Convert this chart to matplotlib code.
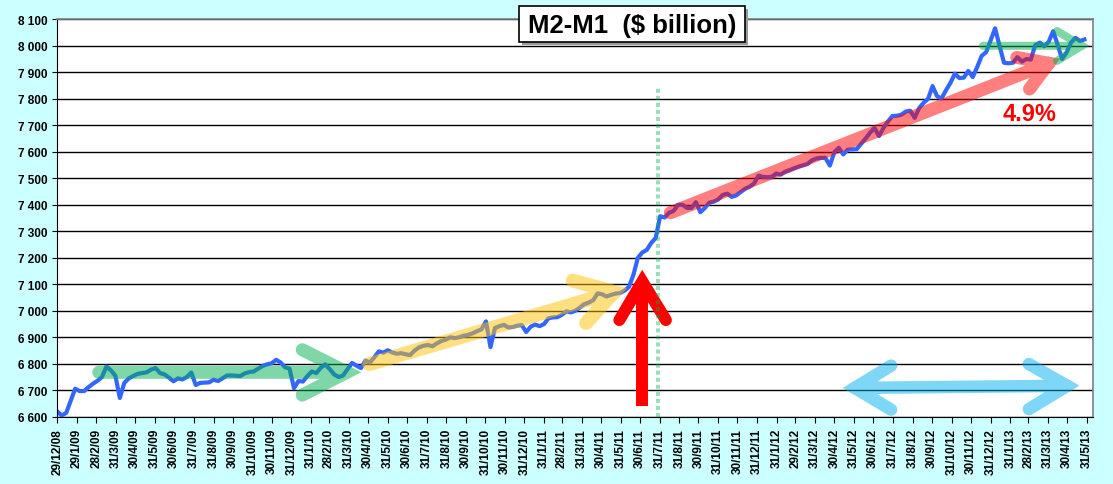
"""
M2-M1 weekly ($ billion), Dec 2008 - May 2013, with hand drawn trend arrows.
"""

import matplotlib
matplotlib.use('Agg')
import matplotlib.pyplot as plt
import matplotlib.dates as mdates
from matplotlib.path import Path
from matplotlib.patches import PathPatch, Rectangle
from datetime import datetime
import pandas as pd

BG = '#CCFFFF'
BLUE = '#3366FF'
GREE = '#00B050'
GOLD = '#FFC000'
RED = '#FF0000'
SKY = '#00B0F0'

# Data -------------------------------------------------------------------------

start = '2008-12-29'

m2m1 = [6620, 6605, 6615, 6660, 6706, 6697, 6697, 6712, 6725, 6736,
        6750, 6790, 6775, 6755, 6671, 6728, 6745, 6754, 6762, 6765,
        6768, 6778, 6784, 6765, 6760, 6748, 6734, 6745, 6741, 6750,
        6767, 6720, 6728, 6729, 6730, 6740, 6735, 6745, 6756, 6756,
        6755, 6754, 6764, 6769, 6771, 6782, 6792, 6798, 6802, 6815,
        6805, 6787, 6782, 6708, 6735, 6733, 6754, 6771, 6765, 6785,
        6798, 6780, 6760, 6750, 6756, 6780, 6803, 6793, 6784, 6812,
        6805, 6825, 6847, 6842, 6851, 6843, 6838, 6840, 6836, 6833,
        6850, 6862, 6868, 6871, 6866, 6877, 6886, 6891, 6900, 6897,
        6900, 6906, 6909, 6915, 6923, 6930, 6960, 6863, 6935, 6942,
        6947, 6937, 6939, 6944, 6946, 6920, 6940, 6948, 6942, 6950,
        6972, 6975, 6976, 6985, 6998, 6994, 7000, 7012, 7025, 7031,
        7040, 7066, 7062, 7054, 7060, 7065, 7067, 7076, 7090, 7135,
        7200, 7220, 7230, 7256, 7275, 7357, 7352, 7370, 7377, 7400,
        7400, 7388, 7388, 7410, 7372, 7388, 7408, 7412, 7420, 7437,
        7442, 7430, 7435, 7448, 7460, 7468, 7480, 7510, 7505, 7504,
        7506, 7518, 7514, 7525, 7531, 7538, 7544, 7549, 7554, 7568,
        7575, 7577, 7577, 7548, 7598, 7615, 7590, 7608, 7609, 7610,
        7630, 7650, 7672, 7690, 7659, 7690, 7714, 7735, 7736, 7740,
        7752, 7755, 7728, 7765, 7785, 7800, 7848, 7810, 7801, 7832,
        7860, 7895, 7878, 7880, 7905, 7882, 7920, 7962, 7976, 8020,
        8066, 8000, 7936, 7934, 7936, 7957, 7940, 7950, 7948, 8003,
        8012, 7998, 8015, 8055, 8005, 7950, 7974, 8012, 8030, 8018,
        8024]

tick_labels = ['29/12/08', '29/1/09', '28/2/09', '31/3/09', '30/4/09', '31/5/09',
               '30/6/09', '31/7/09', '31/8/09', '30/9/09', '31/10/09', '30/11/09',
               '31/12/09', '31/1/10', '28/2/10', '31/3/10', '30/4/10', '31/5/10',
               '30/6/10', '31/7/10', '31/8/10', '30/9/10', '31/10/10', '30/11/10',
               '31/12/10', '31/1/11', '28/2/11', '31/3/11', '30/4/11', '31/5/11',
               '30/6/11', '31/7/11', '31/8/11', '30/9/11', '31/10/11', '30/11/11',
               '31/12/11', '31/1/12', '29/2/12', '31/3/12', '30/4/12', '31/5/12',
               '30/6/12', '31/7/12', '31/8/12', '30/9/12', '31/10/12', '30/11/12',
               '31/12/12', '31/1/13', '28/2/13', '31/3/13', '30/4/13', '31/5/13']

y_ticks = list(range(6600, 8101, 100))

title = 'M2-M1  ($ billion)'
growth = '4.9%'

dates = pd.date_range(start, periods=len(m2m1), freq='7D')
tick_dates = [datetime.strptime(s, '%d/%m/%y') for s in tick_labels]

# Helpers ----------------------------------------------------------------------

def d(s):
	return mdates.date2num(pd.Timestamp(s))

def stroke(ax, parts, color, lw, alpha=1.0, z=3, cap='round'):
	# all parts in one path so overlaps do not stack the alpha
	verts, codes = [], []
	for pts in parts:
		for k, (x, y) in enumerate(pts):
			verts.append((d(x), y))
			codes.append(Path.MOVETO if k == 0 else Path.LINETO)
	p = PathPatch(Path(verts, codes), fill=False, edgecolor=color, lw=lw,
	              alpha=alpha, capstyle=cap, joinstyle='miter', zorder=z)
	p.set_clip_on(False)
	ax.add_patch(p)

# Figure -----------------------------------------------------------------------

plt.rcParams['font.family'] = ['Liberation Sans', 'DejaVu Sans']
plt.rcParams['font.weight'] = 'bold'

W, H = 1113, 485
fig = plt.figure(figsize=(W / 100, H / 100), dpi=100, facecolor=BG)
ax = fig.add_axes([57 / W, (H - 417.8) / H, (1093 - 57) / W, (417.8 - 20.3) / H])
ax.set_facecolor('white')

ax.plot(dates, m2m1, color=BLUE, lw=3.0, solid_joinstyle='round', zorder=2)

ax.set_xlim(datetime(2008, 12, 28, 12), datetime(2013, 6, 9, 12))
ax.set_ylim(6600, 8100)
ax.set_xticks(tick_dates)
ax.set_xticklabels(tick_labels, rotation=90, fontsize=8.5, fontweight='bold')
ax.set_yticks(y_ticks)
ax.set_yticklabels([f'{v:,}'.replace(',', ' ') for v in y_ticks], fontsize=8.5, fontweight='bold')
ax.tick_params(axis='x', length=4, width=0.8, pad=4)
ax.tick_params(axis='y', length=3.5, width=0.8, pad=3.5)
ax.yaxis.grid(True, color='black', lw=1.0)
ax.set_axisbelow(True)
for s in ['left', 'bottom']:
	ax.spines[s].set_color('black')
for s in ['top', 'right']:
	ax.spines[s].set_color('#808080')
	ax.spines[s].set_linewidth(1.2)

# Arrows -----------------------------------------------------------------------

# flat 2009 (green)
stroke(ax, [[('2009-03-04', 6768), ('2010-03-28', 6768)],
            [('2010-01-17', 6853), ('2010-03-28', 6768), ('2010-01-17', 6682)]],
       GREE, 9.4, 0.5)

# 2010 - mid 2011 (gold)
stroke(ax, [[('2010-05-02', 6799), ('2011-05-21', 7071)],
            [('2011-03-17', 7114), ('2011-05-21', 7071), ('2011-04-07', 6954)]],
       GOLD, 10, 0.5)

# mid 2011 onwards (red, 4.9%)
stroke(ax, [[('2011-08-17', 7370), ('2013-04-01', 7934)],
            [('2013-02-10', 7956), ('2013-04-01', 7934), ('2013-03-02', 7837)]],
       RED, 9.4, 0.5)

# flat 2013 (green)
stroke(ax, [[('2012-12-19', 8000), ('2013-05-23', 8000)],
            [('2013-04-14', 8056), ('2013-05-23', 8000), ('2013-04-14', 7943)]],
       GREE, 5.8, 0.5)

# double arrow (sky blue)
stroke(ax, [[('2012-06-01', 6709), ('2013-04-30', 6717)],
            [('2012-07-28', 6793), ('2012-06-01', 6709), ('2012-07-28', 6627)],
            [('2013-03-01', 6799), ('2013-04-30', 6717), ('2013-03-01', 6629)]],
       SKY, 9, 0.5)

# jump of summer 2011 (solid red)
stroke(ax, [[('2011-07-04', 6640), ('2011-07-04', 7100)]], RED, 8.6, 1.0, z=3, cap='butt')
stroke(ax, [[('2011-05-29', 6965), ('2011-07-04', 7111), ('2011-08-10', 6965)]], RED, 8.6, 1.0, z=3)

ax.plot([d('2011-07-28')] * 2, [6600, 7840], color=GREE, alpha=0.4, lw=2.9,
        ls=(0, (1, 0.75)), dash_capstyle='butt', zorder=4)

ax.text(d('2013-03-02'), 7746, growth, color=RED, fontsize=17, fontweight='bold',
        ha='center', va='center', zorder=5)

# Title box ----------------------------------------------------------------------

bx, by, bw, bh = 519, 7, 226, 36
fig.add_artist(Rectangle(((bx + 3) / W, (H - by - bh - 3) / H), bw / W, bh / H,
                         transform=fig.transFigure, facecolor='#9a9a9a', edgecolor='none', zorder=5))
fig.add_artist(Rectangle((bx / W, (H - by - bh) / H), bw / W, bh / H,
                         transform=fig.transFigure, facecolor='white', edgecolor='black', lw=1.2, zorder=6))
fig.text((bx + bw / 2) / W, 1 - (by + bh / 2 + 1) / H, title, fontsize=18.5, fontweight='bold',
         ha='center', va='center', zorder=7)

fig.savefig('out.png', dpi=100, facecolor=BG)
